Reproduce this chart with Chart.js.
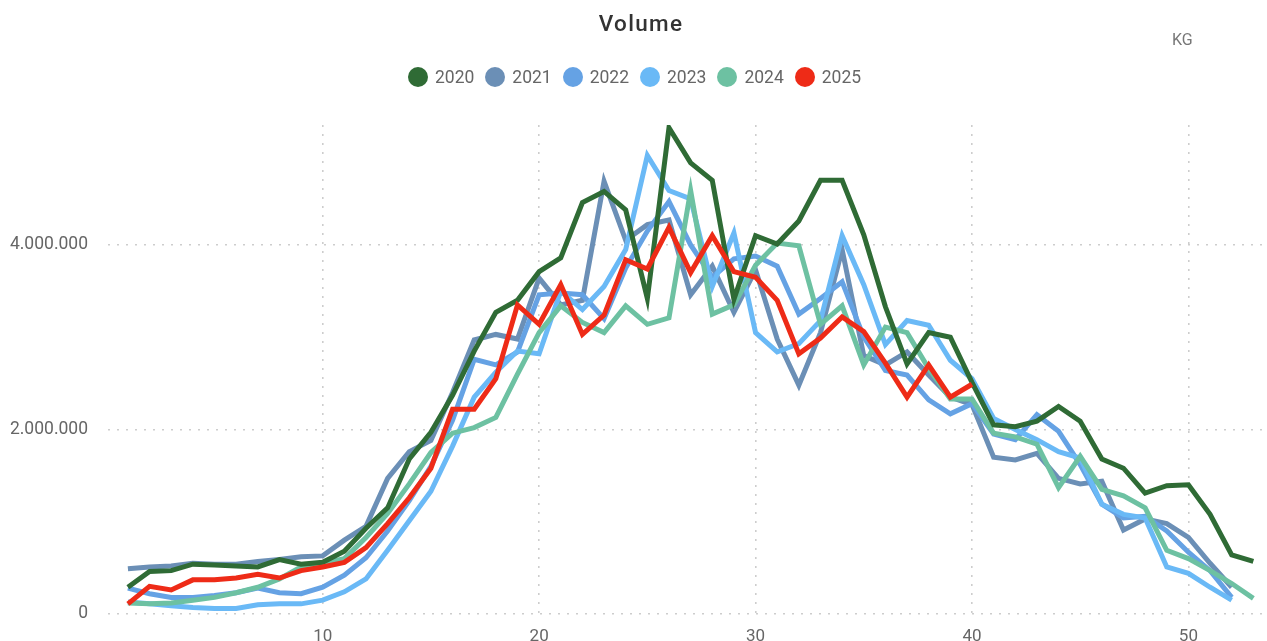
<!DOCTYPE html>
<html>
<head>
<meta charset="utf-8">
<script src="https://cdn.jsdelivr.net/npm/chart.js@4.4.1/dist/chart.umd.min.js"></script>
<style>
  html, body { margin: 0; padding: 0; background: #fff; overflow: hidden; width: 1267px; height: 641px; }
  #wrap { position: absolute; left: 0; top: 0; width: 1267px; height: 660px; }
  #title { position: absolute; left: 0; width: 1282px; top: 10px; text-align: center; font-family: Roboto, sans-serif; font-weight: 500; font-size: 22.5px; letter-spacing: 1.3px; color: #333; }
  #unit { position: absolute; left: 1172px; top: 30px; font-family: Roboto, sans-serif; font-size: 16px; color: #777; }
  #legend { position: absolute; left: 408px; top: 67px; display: flex; align-items: center; font-family: Roboto, sans-serif; font-size: 17.5px; color: #666; }
  .item { display: flex; align-items: center; margin-right: 11px; }
  .dot { width: 20px; height: 20px; border-radius: 50%; margin-right: 7px; }
</style>
</head>
<body>
<div id="wrap"><canvas id="c" width="1267" height="660"></canvas></div>
<div id="title">Volume</div>
<div id="unit">KG</div>
<div id="legend"></div>
<script>
const weeks = [1,2,3,4,5,6,7,8,9,10,11,12,13,14,15,16,17,18,19,20,21,22,23,24,25,26,27,28,29,30,31,32,33,34,35,36,37,38,39,40,41,42,43,44,45,46,47,48,49,50,51,52,53];
const seriesNames = ["2020","2021","2022","2023","2024","2025"];
const seriesColors = ["#2f6b35","#6b8fb6","#65a2e4","#6ab9f6","#6dc1a2","#ee2b17"];
const xTicks = [10,20,30,40,50];
const yTicks = [0,2000000,4000000];

const v2020 = [290000,460000,470000,540000,530000,520000,510000,590000,540000,560000,680000,930000,1150000,1680000,1970000,2370000,2850000,3270000,3400000,3710000,3860000,4460000,4580000,4380000,3420000,5270000,4890000,4700000,3410000,4100000,4010000,4260000,4700000,4700000,4110000,3330000,2710000,3050000,3000000,2510000,2050000,2030000,2090000,2250000,2090000,1680000,1580000,1310000,1390000,1400000,1080000,640000,570000];
const v2021 = [490000,510000,520000,550000,540000,540000,570000,590000,620000,630000,800000,950000,1470000,1760000,1880000,2400000,2970000,3030000,2980000,3640000,3350000,3400000,4690000,4050000,4220000,4270000,3460000,3770000,3270000,3730000,2980000,2480000,3050000,3950000,2800000,2700000,2840000,2590000,2350000,2270000,1700000,1670000,1740000,1470000,1410000,1440000,910000,1030000,980000,830000,550000,290000];
const v2022 = [280000,220000,180000,180000,200000,230000,280000,230000,220000,290000,420000,610000,900000,1230000,1600000,2100000,2760000,2700000,2840000,3460000,3480000,3460000,3200000,3750000,4150000,4470000,4000000,3650000,3850000,3880000,3770000,3250000,3420000,3600000,3000000,2640000,2590000,2320000,2170000,2280000,1950000,1890000,2160000,1980000,1620000,1190000,1040000,1060000,900000,670000,470000,180000];
const v2023 = [130000,110000,90000,70000,60000,60000,100000,110000,110000,150000,240000,380000,690000,1010000,1330000,1820000,2350000,2620000,2850000,2820000,3500000,3300000,3550000,3950000,4970000,4590000,4500000,3550000,4130000,3050000,2840000,2930000,3180000,4100000,3570000,2920000,3180000,3130000,2750000,2550000,2120000,2000000,1890000,1760000,1690000,1190000,1080000,1040000,510000,440000,290000,150000];
const v2024 = [120000,110000,120000,150000,180000,230000,290000,380000,510000,550000,600000,830000,1090000,1410000,1750000,1960000,2020000,2130000,2600000,3050000,3340000,3160000,3050000,3340000,3140000,3210000,4590000,3250000,3350000,3780000,4020000,3990000,3140000,3340000,2700000,3110000,3050000,2660000,2330000,2330000,1960000,1920000,1840000,1370000,1710000,1350000,1280000,1150000,690000,600000,470000,330000,170000];
const v2025 = [110000,300000,260000,370000,370000,390000,430000,390000,470000,510000,560000,720000,980000,1260000,1580000,2220000,2220000,2550000,3350000,3140000,3570000,3030000,3240000,3840000,3740000,4190000,3700000,4100000,3710000,3650000,3400000,2820000,2990000,3220000,3060000,2720000,2350000,2700000,2350000,2490000];

const allValues = [v2020, v2021, v2022, v2023, v2024, v2025];
const drawOrder = [1, 5, 4, 3, 2, 0];

const fmt = v => String(v).replace(/\B(?=(\d{3})+(?!\d))/g, '.');

const legend = document.getElementById('legend');
seriesNames.forEach((n, i) => {
  const it = document.createElement('div'); it.className = 'item';
  const d = document.createElement('span'); d.className = 'dot'; d.style.background = seriesColors[i];
  const t = document.createElement('span'); t.textContent = n;
  it.appendChild(d); it.appendChild(t); legend.appendChild(it);
});

const datasets = seriesNames.map((n, i) => ({
  label: n,
  data: allValues[i].map((v, j) => ({ x: weeks[j], y: v })),
  borderColor: seriesColors[i],
  backgroundColor: seriesColors[i],
  borderWidth: 5,
  pointRadius: 0,
  tension: 0,
  order: drawOrder[i],
  borderJoinStyle: 'miter',
  borderCapStyle: 'butt'
}));

const grid = { color: '#cdcdcd', lineWidth: 1.6, drawTicks: false };

new Chart(document.getElementById('c'), {
  type: 'line',
  data: { datasets },
  options: {
    responsive: false,
    animation: false,
    layout: { padding: { top: 125, right: 5, left: 0, bottom: 0 } },
    plugins: { legend: { display: false }, title: { display: false }, tooltip: { enabled: false } },
    scales: {
      x: {
        type: 'linear', min: 0.08, max: 53.4,
        afterBuildTicks: s => { s.ticks = xTicks.map(v => ({ value: v })); },
        afterFit: s => { s.height = 46; },
        grid: grid,
        border: { display: false, dash: [2, 7] },
        ticks: { padding: 13, color: '#666', font: { family: 'Roboto', size: 17 }, maxRotation: 0, callback: v => String(v) }
      },
      y: {
        min: 0, max: 5300000,
        afterBuildTicks: s => { s.ticks = yTicks.map(v => ({ value: v })); },
        afterFit: s => { s.width = 108; },
        grid: grid,
        border: { display: false, dash: [2, 7] },
        ticks: { padding: 20, color: '#666', font: { family: 'Roboto', size: 17.5 }, callback: v => fmt(v) }
      }
    }
  }
});
</script>
</body>
</html>
